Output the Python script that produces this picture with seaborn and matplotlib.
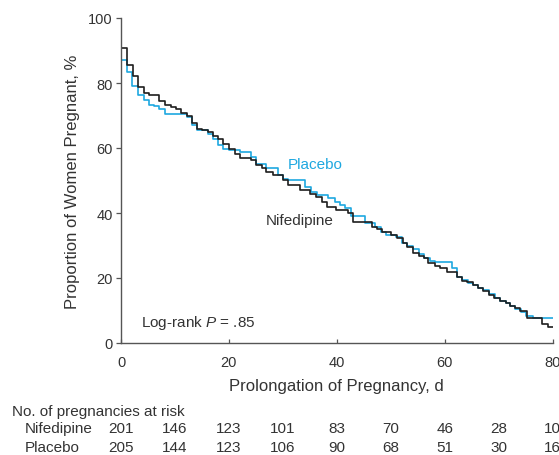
import numpy as np
import pandas as pd
import matplotlib
matplotlib.use("Agg")
import matplotlib.pyplot as plt
import matplotlib.transforms as mtransforms
import seaborn as sns

# Kaplan-Meier step curves (days, % still pregnant)
nif_days = [0, 0, 1.1, 2.2, 3.2, 4.2, 5.1, 7.1, 8.2, 9.2, 10.2, 11.1, 12.2, 13.1, 14.1,
            15.1, 16.1, 17.1, 18.0, 19.0, 20.1, 21.2, 22.0, 24.1, 25.1, 26.1, 26.9, 28.2,
            30.0, 30.9, 33.1, 35.0, 36.2, 37.2, 38.1, 39.9, 42.1, 43.0, 46.5, 47.5, 48.3,
            50.0, 51.2, 52.2, 53.1, 54.2, 55.2, 56.1, 57.0, 58.2, 59.2, 60.4, 62.3, 63.3,
            64.1, 65.2, 66.2, 67.1, 68.2, 69.1, 70.3, 71.3, 72.2, 73.1, 74.0, 75.3, 78.0,
            79.2, 80]
nif_pct = [100, 90.8, 85.4, 82.3, 78.7, 76.8, 76.2, 74.6, 73.1, 72.6, 72.1, 70.8, 69.8, 67.8,
           66.0, 65.4, 64.9, 63.8, 62.9, 61.3, 59.8, 58.3, 57.0, 56.2, 54.7, 53.7, 52.7, 51.6,
           50.1, 48.6, 47.0, 46.0, 45.0, 43.5, 41.9, 40.9, 39.9, 37.1, 35.8, 35.2, 34.1,
           33.2, 32.4, 30.9, 29.4, 27.8, 26.8, 26.1, 24.6, 23.8, 23.0, 21.7, 20.2, 19.2,
           18.9, 17.9, 16.9, 15.9, 14.8, 13.8, 12.8, 12.3, 11.3, 10.7, 9.7, 7.6, 5.8,
           4.8, 4.8]

plc_days = [0, 0, 1.1, 2.0, 3.2, 4.2, 5.1, 6.1, 7.1, 8.1, 12.2, 13.1, 14.1, 16.1, 17.1,
            18.0, 19.0, 20.1, 22.0, 24.1, 25.1, 26.9, 29.1, 30.0, 30.9, 34.2, 35.2, 36.4,
            38.4, 39.6, 40.6, 41.6, 42.6, 45.3, 47.1, 48.2, 49.2, 51.0, 52.1, 53.1, 54.2,
            55.2, 56.1, 57.2, 58.3, 61.3, 62.3, 63.3, 64.3, 65.2, 66.2, 67.1, 68.2, 69.3,
            70.3, 71.3, 72.2, 73.1, 74.2, 75.0, 76.4, 80]
plc_pct = [100, 87.1, 83.3, 79.2, 76.2, 74.8, 73.3, 72.8, 72.1, 70.6, 69.5, 67.2, 65.6, 64.4,
           62.9, 60.8, 59.8, 59.3, 58.8, 57.3, 55.2, 53.7, 51.6, 50.6, 50.1, 48.0, 46.5,
           45.5, 44.5, 43.5, 42.4, 41.4, 39.2, 36.9, 35.6, 34.1, 33.2, 32.5, 30.8, 29.9,
           28.9, 27.4, 26.1, 25.3, 24.8, 23.1, 20.2, 19.4, 18.6, 17.8, 17.0, 16.2, 15.0,
           14.0, 13.0, 12.3, 11.5, 10.5, 9.5, 8.2, 7.6, 7.6]

# numbers at risk table
risk_days = [0, 10, 20, 30, 40, 50, 60, 70, 80]
nif_risk = [201, 146, 123, 101, 83, 70, 46, 28, 10]
plc_risk = [205, 144, 123, 106, 90, 68, 51, 30, 16]

blue = "#1ea8e0"
dark = "#1e1e1e"
txt = "#333333"
axcol = "#555555"

sns.set_style("ticks")
plt.rcParams['font.family'] = ['Liberation Sans', 'DejaVu Sans']
plt.rcParams['mathtext.fontset'] = 'custom'
plt.rcParams['mathtext.rm'] = 'Liberation Sans'
plt.rcParams['mathtext.it'] = 'Liberation Sans:italic'

W, H = 559, 456
fig = plt.figure(figsize=(W / 100, H / 100), dpi=100)
x0, x1, y0, y1 = 121, 552.5, 19, 344
ax = fig.add_axes([x0 / W, 1 - y1 / H, (x1 - x0) / W, (y1 - y0) / H])

nif = pd.DataFrame({"day": nif_days, "pct": nif_pct})
plc = pd.DataFrame({"day": plc_days, "pct": plc_pct})
sns.lineplot(data=plc, x="day", y="pct", estimator=None, sort=False,
             drawstyle="steps-post", color=blue, lw=1.2, ax=ax)
sns.lineplot(data=nif, x="day", y="pct", estimator=None, sort=False,
             drawstyle="steps-post", color=dark, lw=1.2, ax=ax)

ax.set_xlim(0, 80)
ax.set_ylim(0, 100)
ax.set_xticks([0, 20, 40, 60, 80])
ax.set_yticks([0, 20, 40, 60, 80, 100])
sns.despine(ax=ax)
for s in ["left", "bottom"]:
    ax.spines[s].set_color(axcol)
    ax.spines[s].set_linewidth(1.0)
ax.tick_params(axis="x", direction="in", length=3.1, width=0.9, color=axcol,
               pad=9, labelsize=10.5, labelcolor=txt)
ax.tick_params(axis="y", direction="out", length=3.3, width=0.9, color=axcol,
               pad=2.7, labelsize=10.5, labelcolor=txt)

ax.set_xlabel("Prolongation of Pregnancy, d", fontsize=12, color=txt)
ax.set_ylabel("Proportion of Women Pregnant, %", fontsize=12, color=txt)
ax.xaxis.set_label_coords(0.5, -(379.5 - y1) / (y1 - y0))
ax.yaxis.set_label_coords(-(x0 - 80.5) / (x1 - x0), 0.5)

ax.text(31.0, 55.1, "Placebo", color=blue, fontsize=11, va="center", ha="left")
ax.text(26.8, 37.9, "Nifedipine", color=txt, fontsize=11, va="center", ha="left")
ax.text(3.8, 6.4, "Log-rank $P$ = .85", color=txt, fontsize=11, va="center", ha="left")

# at-risk table below the axis
trans = mtransforms.blended_transform_factory(ax.transData, fig.transFigure)
fig.text(11.7 / W, 1 - 411.7 / H, "No. of pregnancies at risk", fontsize=11,
         color=txt, va="center", ha="left")
fig.text(25 / W, 1 - 429 / H, "Nifedipine", fontsize=11, color=txt, va="center", ha="left")
fig.text(25 / W, 1 - 448 / H, "Placebo", fontsize=11, color=txt, va="center", ha="left")
for d, a, b in zip(risk_days, nif_risk, plc_risk):
    ax.text(d, 1 - 429 / H, str(a), transform=trans, fontsize=11, color=txt,
            ha="center", va="center", clip_on=False)
    ax.text(d, 1 - 448 / H, str(b), transform=trans, fontsize=11, color=txt,
            ha="center", va="center", clip_on=False)

fig.savefig("out.png", dpi=100)
